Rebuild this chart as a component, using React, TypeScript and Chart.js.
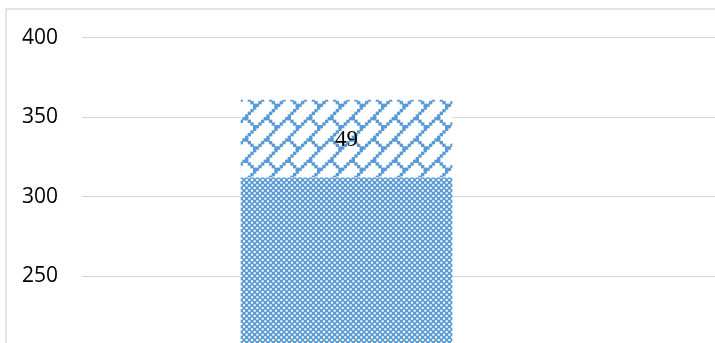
import React, { useEffect, useRef } from 'react';
import { Chart, registerables } from 'chart.js';

Chart.register(...registerables);

// ---- data ----
const categories = ['A', 'B'];
const baseValues: (number | null)[] = [312, null];
const topValues: (number | null)[] = [49, null];
const yTickValues = [250, 300, 350, 400];
const yMin = 208;
const yMax = 418;

const BLUE = '#5B9BD5';

function makePattern(kind: 'checker' | 'brick'): CanvasPattern | string {
  const cell = 8 / 3;
  const size = 64; // 3 repeats of an 8x8 bitmap at 8/3 scale
  const tile = document.createElement('canvas');
  tile.width = size;
  tile.height = size;
  const c = tile.getContext('2d');
  if (!c) return BLUE;
  c.fillStyle = '#ffffff';
  c.fillRect(0, 0, size, size);
  c.fillStyle = BLUE;
  const rows: number[][] =
    kind === 'checker'
      ? [[0, 2, 4, 6], [1, 3, 5, 7], [0, 2, 4, 6], [1, 3, 5, 7], [0, 2, 4, 6], [1, 3, 5, 7], [0, 2, 4, 6], [1, 3, 5, 7]]
      : [[7], [6], [5], [4], [3, 4], [2, 5], [1, 6], [0, 7]];
  const grow = kind === 'checker' ? 0.3 : 0.35;
  for (let ty = -1; ty < 4; ty++)
    for (let tx = -1; tx < 4; tx++)
      rows.forEach((xs, y) =>
        xs.forEach((x) =>
          c.fillRect((tx * 8 + x) * cell - grow, (ty * 8 + y) * cell - grow, cell + 2 * grow, cell + 2 * grow)
        )
      );
  const tmp = document.createElement('canvas').getContext('2d');
  if (!tmp) return BLUE;
  const p = tmp.createPattern(tile, 'repeat');
  return p || BLUE;
}

const labelPlugin = {
  id: 'segLabel',
  afterDatasetsDraw(chart: any) {
    const ctx = chart.ctx;
    const meta = chart.getDatasetMeta(1);
    ctx.save();
    ctx.font = '23px "Liberation Serif", "Times New Roman", serif';
    ctx.fillStyle = '#000';
    ctx.textAlign = 'center';
    ctx.textBaseline = 'middle';
    meta.data.forEach((el: any, i: number) => {
      const v = topValues[i];
      if (v == null) return;
      ctx.fillText(String(v), el.x, (el.y + el.base) / 2 + 1);
    });
    ctx.restore();
  },
};

export default function App() {
  const ref = useRef<HTMLCanvasElement>(null);
  useEffect(() => {
    if (!ref.current) return;
    const chart = new Chart(ref.current, {
      type: 'bar',
      data: {
        labels: categories,
        datasets: [
          { data: baseValues as any, backgroundColor: makePattern('checker') as any, borderWidth: 0 },
          { data: topValues as any, backgroundColor: makePattern('brick') as any, borderWidth: 0 },
        ],
      },
      options: {
        responsive: false,
        animation: false,
        layout: { padding: { top: 9, left: 0, right: 0, bottom: 0 } },
        plugins: { legend: { display: false }, tooltip: { enabled: false } },
        datasets: { bar: { categoryPercentage: 1, barPercentage: 0.4 } },
        scales: {
          x: { stacked: true, display: false },
          y: {
            stacked: true,
            min: yMin,
            max: yMax,
            border: { display: false },
            grid: { color: '#d4d4d4', lineWidth: 1, drawTicks: false },
            afterBuildTicks: (s: any) => {
              s.ticks = yTickValues.map((v) => ({ value: v }));
            },
            afterFit: (s: any) => {
              s.width = 82;
              s.paddingTop = 0;
              s.paddingBottom = 0;
            },
            ticks: {
              padding: 24,
              color: '#000',
              font: { family: '"Open Sans", sans-serif', size: 21 },
            },
          },
        },
      },
      plugins: [labelPlugin],
    });
    return () => chart.destroy();
  }, []);
  return (
    <div style={{ position: 'fixed', left: 0, top: 0, width: 715, height: 343, overflow: 'hidden', background: '#fff' }}>
      <div style={{ position: 'absolute', left: 5, top: 8, width: 2000, height: 2000, borderTop: '2px solid #e3e3e3', borderLeft: '2px solid #e3e3e3' }} />
      <canvas ref={ref} width={1140} height={343} style={{ position: 'absolute', left: 0, top: 0 }} />
    </div>
  );
}
